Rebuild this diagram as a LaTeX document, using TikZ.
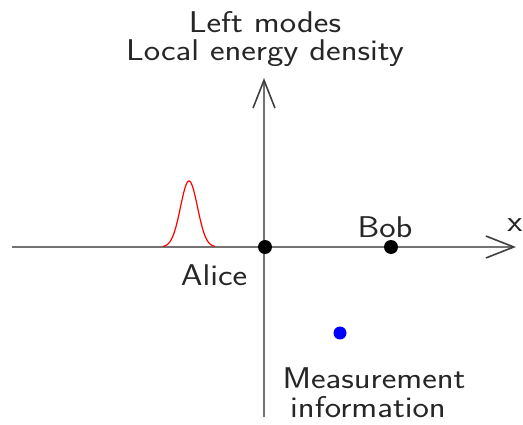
\documentclass[tikz,border=0pt]{standalone}
\usetikzlibrary{arrows.meta}
\newcommand{\widetxt}[1]{\scalebox{1.16}[1]{#1}}
\begin{document}
\begin{tikzpicture}[x=1pt,y=-1pt,
  axis/.style={draw=black!55, line width=2.6pt, -{Straight Barb[length=28pt,width=22pt,line width=1.6pt,black!75]}},
  lbl/.style={font=\sffamily\fontsize{30}{36}\selectfont, text=black!85, inner sep=0pt},
  dotb/.style={circle, fill=black, minimum size=14pt, inner sep=0pt}]
\useasboundingbox (0,0) rectangle (523,425);
\coordinate (xl) at (12,247);
\coordinate (xr) at (516,247);
\coordinate (yb) at (264,417);
\coordinate (yt) at (264,78);
\draw[axis] (xl) -- (xr);
\draw[axis] (yb) -- (yt);
\node[dotb] (o) at (265,247) {};
\node[dotb] (bob) at (391,247) {};
\node[circle, fill=blue, minimum size=13pt, inner sep=0pt] (m) at (340,333) {};
\draw[red, line width=1.2pt, domain=163:215, samples=80] plot (\x, {247-66*exp(-((\x-189)/12)^2)});
\node[lbl] (t1) at (265,22) {\widetxt{Left modes}};
\node[lbl] (t2) at (265,53) {\widetxt{Local energy density}};
\node[lbl] (bl) at (385,227) {\widetxt{Bob}};
\node[lbl] (al) at (214,275) {\widetxt{Alice}};
\node[lbl] (xx) at (515,225) {\widetxt{x}};
\node[lbl] (m1) at (374,378) {\widetxt{Measurement}};
\node[lbl] (m2) at (368,407) {\widetxt{information}};
\end{tikzpicture}
\end{document}
